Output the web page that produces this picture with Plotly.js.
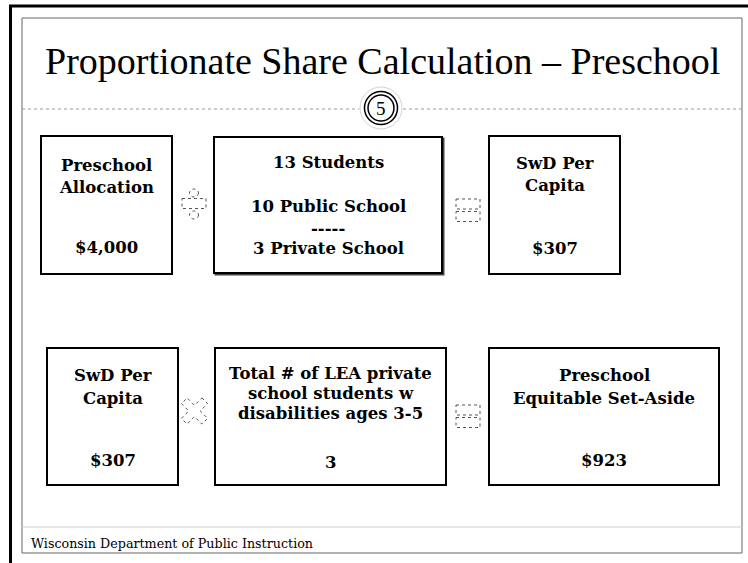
<!DOCTYPE html>
<html>
<head>
<meta charset="utf-8">
<script src="https://cdn.plot.ly/plotly-3.0.1.min.js"></script>
<style>
  html, body { margin: 0; padding: 0; background: #fff; }
  #slide { width: 748px; height: 563px; }
</style>
</head>
<body>
<div id="slide"></div>
<script>
// slide content
const slideTitle = 'Proportionate Share Calculation \u2013 Preschool';
const slideNumber = '5';
const footerText = 'Wisconsin Department of Public Instruction';

const boxHeads = [
  ['Preschool', 'Allocation'],
  ['13 Students'],
  ['SwD Per', 'Capita'],
  ['SwD Per', 'Capita'],
  ['Total # of LEA private', 'school students w', 'disabilities ages 3-5'],
  ['Preschool', 'Equitable Set-Aside']
];
const boxValues = [
  ['$4,000'],
  ['10 Public School', '-----', '3 Private School'],
  ['$307'],
  ['$307'],
  ['3'],
  ['$923']
];
const operators = ['divide', 'equals', 'times', 'equals'];

// geometry (pixels, y down)
const boxRects = [
  [41, 136, 172, 274], [214, 137, 442, 273], [489, 136, 620, 274],
  [47, 348, 178, 485], [215, 348, 446, 485], [489, 348, 719, 485]
];
const headY = [[165, 187], [162], [163, 185], [375, 398], [373, 393, 413], [375, 398]];
const valueY = [[247], [206, 228, 248], [248], [460], [462], [460]];
const opCenters = [[194, 204], [468, 210], [194.5, 411], [468, 416]];

const shapes = [];
const annotations = [];
const black = '#000';

// frames
shapes.push({type: 'line', x0: 10.5, x1: 10.5, y0: 5, y1: 563, line: {color: black, width: 3}});
shapes.push({type: 'line', x0: 9, x1: 748, y0: 6, y1: 6, line: {color: black, width: 3}});
shapes.push({type: 'rect', x0: 22, x1: 742, y0: 18, y1: 553, line: {color: '#666', width: 1}});
shapes.push({type: 'line', x0: 22, x1: 742, y0: 527, y1: 527, line: {color: '#cfcfcf', width: 1}});

// dotted rule with the slide number
shapes.push({type: 'line', x0: 22, x1: 359, y0: 109, y1: 109, line: {color: '#999', width: 1.2, dash: 'dot'}});
shapes.push({type: 'line', x0: 403, x1: 742, y0: 109, y1: 109, line: {color: '#999', width: 1.2, dash: 'dot'}});
const cx = 381, cy = 108;
[[21, '#d4d4d4', 1], [16.5, black, 1.5], [13, black, 1.5]].forEach(([r, c, w]) => {
  shapes.push({type: 'circle', x0: cx - r, x1: cx + r, y0: cy - r, y1: cy + r,
    line: {color: c, width: w}, fillcolor: r === 21 ? '#fff' : 'rgba(0,0,0,0)'});
});
annotations.push({x: cx, y: cy + 0.5, text: slideNumber, showarrow: false,
  font: {family: 'Liberation Serif', size: 19, color: black}});

annotations.push({x: 382.5, y: 61, text: slideTitle, showarrow: false,
  font: {family: 'Liberation Serif', size: 38, color: black}});
annotations.push({x: 29, y: 543, xanchor: 'left', text: footerText, showarrow: false,
  font: {family: 'DejaVu Serif', size: 12.7, color: black}});

// boxes
const boxFont = {family: 'DejaVu Serif', size: 16.5, color: black, weight: 'bold'};
boxRects.forEach((r, i) => {
  if (i === 1) {
    shapes.push({type: 'rect', x0: r[0] + 1.5, x1: r[2] + 1.5, y0: r[1] + 1.5, y1: r[3] + 1.5,
      line: {color: '#444', width: 2}});
    shapes.push({type: 'line', x0: 240, x1: 421, y0: 175, y1: 175, line: {color: black, width: 1.2}});
  }
  shapes.push({type: 'rect', x0: r[0], x1: r[2], y0: r[1], y1: r[3],
    line: {color: black, width: 2}, fillcolor: '#fff'});
  const mid = (r[0] + r[2]) / 2;
  boxHeads[i].forEach((t, k) => annotations.push({x: mid, y: headY[i][k], text: t, showarrow: false, font: boxFont}));
  boxValues[i].forEach((t, k) => annotations.push({x: mid, y: valueY[i][k], text: t, showarrow: false, font: boxFont}));
});

// operator glyphs, dashed outlines
const opLine = {color: '#555', width: 1, dash: 'dot'};
operators.forEach((op, i) => {
  const [x, y] = opCenters[i];
  if (op === 'divide') {
    shapes.push({type: 'circle', x0: x - 4.5, x1: x + 4.5, y0: y - 15, y1: y - 7, line: opLine});
    shapes.push({type: 'rect', x0: x - 12, x1: x + 12, y0: y - 5.5, y1: y + 4.5, line: opLine});
    shapes.push({type: 'circle', x0: x - 4.5, x1: x + 4.5, y0: y + 7, y1: y + 15, line: opLine});
  } else if (op === 'equals') {
    shapes.push({type: 'rect', x0: x - 12, x1: x + 12, y0: y - 11, y1: y - 1, line: opLine});
    shapes.push({type: 'rect', x0: x - 12, x1: x + 12, y0: y + 1.5, y1: y + 11.5, line: opLine});
  } else {
    const L = 14.5, w = 4;
    const pts = [[-w,-L],[w,-L],[w,-w],[L,-w],[L,w],[w,w],[w,L],[-w,L],[-w,w],[-L,w],[-L,-w],[-w,-w]];
    const path = pts.map((p, k) => {
      const px = x + (p[0] - p[1]) / Math.SQRT2;
      const py = y + (p[0] + p[1]) / Math.SQRT2;
      return (k ? 'L' : 'M') + px.toFixed(1) + ',' + py.toFixed(1);
    }).join(' ') + ' Z';
    shapes.push({type: 'path', path: path, line: opLine});
  }
});

const layout = {
  width: 748, height: 563,
  margin: {l: 0, r: 0, t: 0, b: 0},
  paper_bgcolor: '#fff', plot_bgcolor: '#fff',
  showlegend: false,
  xaxis: {range: [0, 748], visible: false, fixedrange: true},
  yaxis: {range: [563, 0], visible: false, fixedrange: true},
  shapes: shapes,
  annotations: annotations
};

Plotly.newPlot('slide', [], layout, {staticPlot: true, displayModeBar: false});
</script>
</body>
</html>
